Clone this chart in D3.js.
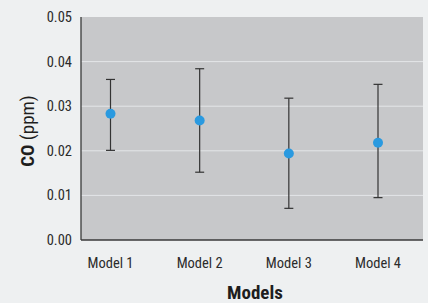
<!DOCTYPE html>
<html lang="en">
<head>
    <meta charset="UTF-8">
    <title>CO by model</title>
    <script src="https://d3js.org/d3.v7.min.js"></script>
    <style>
        body {
            margin: 0;
            overflow: hidden;
            background: #eef0f1;
        }
        svg {
            display: block;
            font-family: "Liberation Sans Narrow", "Roboto Condensed", "DejaVu Sans Condensed", sans-serif;
        }
        .tick-label {
            font-size: 14.5px;
            fill: #2b2b2b;
        }
    </style>
</head>
<body>
    <script>
        const models = ["Model 1", "Model 2", "Model 3", "Model 4"];
        const means = [0.0283, 0.0268, 0.0194, 0.0218];
        const upper = [0.0360, 0.0384, 0.0318, 0.0349];
        const lower = [0.0201, 0.0152, 0.0071, 0.0095];
        const yTicks = [0.00, 0.01, 0.02, 0.03, 0.04, 0.05];

        const width = 428, height = 303;
        const plot = { left: 81, right: 423, top: 17, bottom: 240 };

        let svg = d3.select("body").append("svg")
            .attr("width", width)
            .attr("height", height);

        let x = d3.scalePoint()
            .domain(models)
            .range([110.5, 378]);

        let y = d3.scaleLinear()
            .domain([0, 0.05])
            .range([plot.bottom, plot.top]);

        // plot background
        svg.append("rect")
            .attr("x", plot.left)
            .attr("y", plot.top)
            .attr("width", plot.right - plot.left)
            .attr("height", plot.bottom - plot.top)
            .attr("fill", "#c7c8ca");

        // horizontal grid lines
        svg.append("g").selectAll("line")
            .data(yTicks.slice(1, -1))
            .enter().append("line")
            .attr("x1", plot.left)
            .attr("x2", plot.right)
            .attr("y1", d => y(d))
            .attr("y2", d => y(d))
            .attr("stroke", "#e4e6e8")
            .attr("stroke-width", 1);

        // axis lines
        svg.append("line")
            .attr("x1", plot.left).attr("x2", plot.left)
            .attr("y1", plot.top).attr("y2", plot.bottom)
            .attr("stroke", "#3a3a3a").attr("stroke-width", 1.3);
        svg.append("line")
            .attr("x1", plot.left).attr("x2", plot.right)
            .attr("y1", plot.bottom).attr("y2", plot.bottom)
            .attr("stroke", "#3a3a3a").attr("stroke-width", 1.3);

        // y tick labels
        svg.append("g").selectAll("text")
            .data(yTicks)
            .enter().append("text")
            .attr("class", "tick-label")
            .attr("x", 72)
            .attr("y", d => y(d))
            .attr("dy", "0.35em")
            .attr("text-anchor", "end")
            .text(d => d3.format(".2f")(d));

        // x tick labels
        svg.append("g").selectAll("text")
            .data(models)
            .enter().append("text")
            .attr("class", "tick-label")
            .attr("x", d => x(d))
            .attr("y", 263)
            .attr("dy", "0.35em")
            .attr("text-anchor", "middle")
            .text(d => d);

        // error bars
        let bars = svg.append("g").selectAll("g")
            .data(models.map((m, i) => ({ m, mean: means[i], hi: upper[i], lo: lower[i] })))
            .enter().append("g")
            .attr("stroke", "#333")
            .attr("stroke-width", 1.2);

        bars.append("line")
            .attr("x1", d => x(d.m)).attr("x2", d => x(d.m))
            .attr("y1", d => y(d.hi)).attr("y2", d => y(d.lo));
        bars.append("line")
            .attr("x1", d => x(d.m) - 4.5).attr("x2", d => x(d.m) + 4.5)
            .attr("y1", d => y(d.hi)).attr("y2", d => y(d.hi));
        bars.append("line")
            .attr("x1", d => x(d.m) - 4.5).attr("x2", d => x(d.m) + 4.5)
            .attr("y1", d => y(d.lo)).attr("y2", d => y(d.lo));

        bars.append("circle")
            .attr("cx", d => x(d.m))
            .attr("cy", d => y(d.mean))
            .attr("r", 5)
            .attr("stroke", "none")
            .attr("fill", "#2a9ae0");

        // axis titles
        svg.append("text")
            .attr("x", 255)
            .attr("y", 299)
            .attr("text-anchor", "middle")
            .attr("font-size", 19)
            .attr("font-weight", "bold")
            .attr("fill", "#1e1e1e")
            .text("Models");

        let yTitle = svg.append("text")
            .attr("transform", "translate(27,131) rotate(-90)")
            .attr("dy", "0.35em")
            .attr("text-anchor", "middle")
            .attr("font-size", 19)
            .attr("fill", "#1e1e1e");
        yTitle.append("tspan").attr("font-weight", "bold").text("CO");
        yTitle.append("tspan").text(" (ppm)");
    </script>
</body>
</html>
